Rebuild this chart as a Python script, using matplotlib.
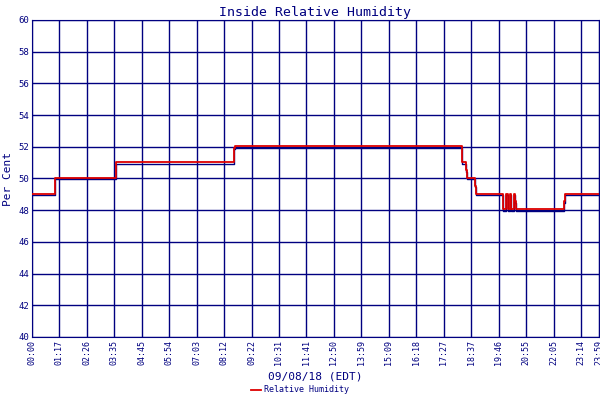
import matplotlib
matplotlib.use('Agg')
import matplotlib.pyplot as plt
import numpy as np

# minutes after midnight, humidity (%) - step changes
times = [0, 58, 213, 513, 514, 516, 1091, 1101, 1104, 1124, 1127, 1195, 1203, 1208, 1213,
         1216, 1223, 1226, 1228, 1350, 1353, 1439]
humidity = [49, 50, 51, 51.7, 51.9, 52, 51, 50.5, 50, 49.5, 49, 48, 49, 48, 49,
            48, 49, 48.5, 48, 48.5, 49, 49]

tick_labels = ['00:00', '01:17', '02:26', '03:35', '04:45', '05:54', '07:03', '08:12',
               '09:22', '10:31', '11:41', '12:50', '13:59', '15:09', '16:18', '17:27',
               '18:37', '19:46', '20:55', '22:05', '23:14', '23:59']

navy = '#000080'
plt.rcParams['font.family'] = 'DejaVu Sans Mono'

fig = plt.figure(figsize=(6, 4), dpi=100)
ax = fig.add_axes([0.053, 0.1575, 0.945, 0.7925])

ticks = [i * 1394 / 20 for i in range(21)] + [1439]
ax.set_xticks(ticks)
ax.set_xticklabels(tick_labels, rotation=90, fontsize=6, color=navy)
ax.set_yticks(np.arange(40, 61, 2))
ax.set_yticklabels([str(v) for v in range(40, 61, 2)], fontsize=6.5, color=navy)
ax.grid(True, color=navy, linewidth=1)
ax.tick_params(length=0, pad=2)
for s in ax.spines.values():
    s.set_color(navy)

ax.step(times, np.array(humidity) - 0.06, where='post', color=navy, linewidth=1.0, zorder=3)
ax.step(times, np.array(humidity) + 0.05, where='post', color='#dd0000', linewidth=1.3,
        zorder=4, label='Relative Humidity')

ax.set_xlim(0, 1439)
ax.set_ylim(40, 60)
ax.set_title('Inside Relative Humidity', fontsize=9.5, color=navy, pad=3)
ax.set_ylabel('Per Cent', fontsize=8, color=navy, labelpad=4)
ax.set_xlabel('09/08/18 (EDT)', fontsize=8, color=navy, labelpad=5)

fig.legend(loc='lower center', bbox_to_anchor=(0.5, -0.005), frameon=False, fontsize=6,
           handlelength=1.2, handletextpad=0.3, labelcolor=navy)

fig.savefig('out.png', dpi=100)
